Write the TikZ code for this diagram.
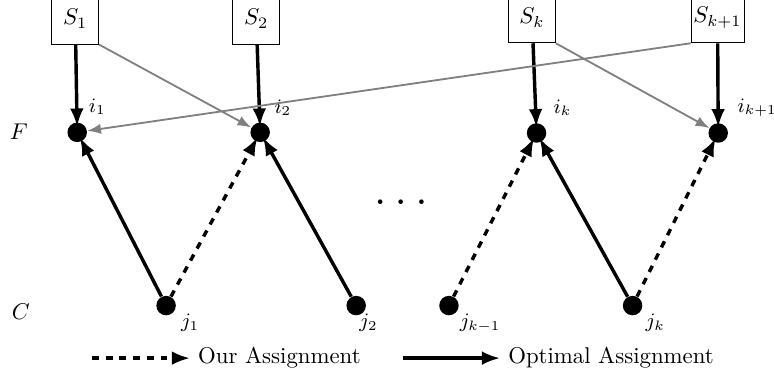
\documentclass[tikz,border=0pt]{standalone}
\usepackage{amsmath,amssymb}
\usepackage{xcolor}
\usepackage{tikz}
\usetikzlibrary{arrows.meta,positioning}

\begin{document}
\begin{tikzpicture}[
  x=1cm,
  y=1cm,
  setbox/.style={draw,line width=0.4pt,minimum width=0.72cm,minimum height=0.78cm,inner sep=1pt},
  site/.style={circle,fill=black,minimum size=0.3cm,inner sep=0pt},
  lab/.style={font=\small},
  rowlabel/.style={font=\normalsize},
  optarrow/.style={line width=1.5pt,-{Latex[length=8pt,width=6pt]}},
  ourarrow/.style={optarrow,dashed},
  into/.style={shorten >=-2pt},
  swaparrow/.style={gray,line width=0.8pt,-{Latex[length=6pt,width=4.5pt]}}
]
  \clip (0,0) rectangle (11.93,5.81);

  % Sets on top
  \node[setbox] (S1) at (1.16,5.52) {$S_1$};
  \node[setbox] (S2) at (3.95,5.52) {$S_2$};
  \node[setbox] (Sk) at (8.20,5.54) {$S_k$};
  \node[setbox] (Sk1) at (11.06,5.54) {$S_{k+1}$};

  % Facilities
  \node[rowlabel] (F) at (0.29,3.78) {$F$};
  \node[site] (i1) at (1.19,3.77) {};
  \node[site] (i2) at (4.01,3.77) {};
  \node[site] (ik) at (8.27,3.76) {};
  \node[site] (ik1) at (11.07,3.76) {};
  \node[lab] (li1) at (1.50,4.16) {$i_1$};
  \node[lab] (li2) at (4.36,4.15) {$i_2$};
  \node[lab] (lik) at (8.67,4.15) {$i_k$};
  \node[lab] (lik1) at (11.67,4.15) {$i_{k+1}$};

  \node (dots) at (6.18,2.70) {\huge$\ldots$};

  % Clients
  \node[rowlabel] (C) at (0.32,1.00) {$C$};
  \node[site] (j1) at (2.56,1.10) {};
  \node[site] (j2) at (5.49,1.10) {};
  \node[site] (jk0) at (6.92,1.10) {};
  \node[site] (jk) at (9.75,1.10) {};
  \node[lab] (lj1) at (2.93,0.83) {$j_1$};
  \node[lab] (lj2) at (5.68,0.83) {$j_2$};
  \node[lab] (ljk0) at (7.40,0.83) {$j_{k-1}$};
  \node[lab] (ljk) at (10.10,0.83) {$j_k$};

  % Set arrows
  \draw[optarrow,into] (S1) -- (i1);
  \draw[optarrow,into] (S2) -- (i2);
  \draw[optarrow,into] (Sk) -- (ik);
  \draw[optarrow,into] (Sk1) -- (ik1);
  \draw[swaparrow] (S1.south east) -- (i2);
  \draw[swaparrow] (Sk1.south west) -- (i1);
  \draw[swaparrow] (Sk.south east) -- (ik1);

  % Assignments
  \draw[optarrow,into] (j1) -- (i1);
  \draw[ourarrow,into] (j1) -- (i2);
  \draw[optarrow,into] (j2) -- (i2);
  \draw[ourarrow,into] (jk0) -- (ik);
  \draw[optarrow,into] (jk) -- (ik);
  \draw[ourarrow,into] (jk) -- (ik1);

  % Legend
  \node[anchor=west] (ourtxt) at (2.93,0.29) {Our Assignment};
  \node[anchor=west] (opttxt) at (7.71,0.29) {Optimal Assignment};
  \coordinate (ourstart) at (1.42,0.29);
  \coordinate (optstart) at (6.21,0.29);
  \draw[ourarrow] (ourstart) -- (ourtxt.west);
  \draw[optarrow] (optstart) -- (opttxt.west);
\end{tikzpicture}
\end{document}
